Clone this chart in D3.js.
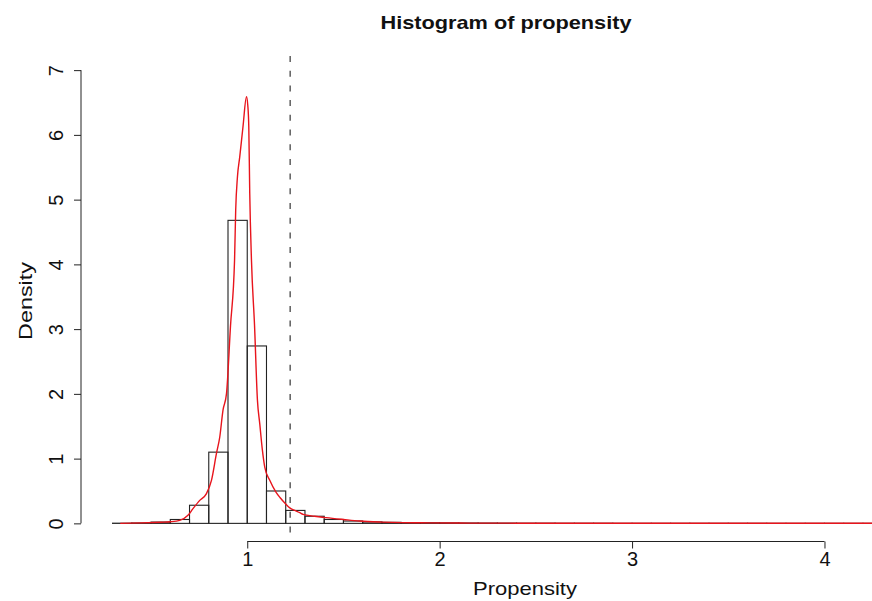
<!DOCTYPE html>
<html>
<head>
<meta charset="utf-8">
<script src="https://cdn.jsdelivr.net/npm/d3@7"></script>
<style>
  html, body { margin: 0; padding: 0; background: #fff; }
  svg { display: block; }
  text { font-family: "Liberation Sans", Arial, Helvetica, sans-serif; fill: #111; }
</style>
</head>
<body>
<script>
// ---- data ----
const title = "Histogram of propensity";
const xLabel = "Propensity";
const yLabel = "Density";
const binStart = 0.3;
const binWidth = 0.1;
const binDensity = [
  0.003, 0.006, 0.02, 0.06, 0.28, 1.10, 4.68, 2.74, 0.50, 0.20,
  0.11, 0.06, 0.036, 0.022, 0.016, 0.012, 0.01, 0.008, 0.006, 0.005,
  0.004, 0.003, 0.003, 0.002, 0.002, 0.002, 0.001, 0.001, 0.001, 0.001,
  0.001, 0.001, 0.001, 0.001, 0.0005, 0.0005, 0.0005, 0.0005, 0.0005, 0.0005, 0.0005
];
const densX = [0.34, 0.45, 0.55, 0.60, 0.649, 0.692, 0.718, 0.753, 0.788, 0.814, 0.840, 0.857, 0.874, 0.892, 0.913, 0.934, 0.940, 0.949, 0.961, 0.978, 0.996,
  1.003, 1.008, 1.013, 1.022, 1.038, 1.053, 1.065, 1.078, 1.091, 1.117, 1.15, 1.17, 1.20, 1.221, 1.247, 1.273, 1.29, 1.35, 1.41, 1.5, 1.584, 1.7, 1.757, 1.9, 2.1, 2.4, 2.8, 3.2, 3.6, 4.0, 4.4, 4.6];
const densY = [0.0, 0.008, 0.018, 0.025, 0.046, 0.124, 0.227, 0.355, 0.46, 0.665, 1.08, 1.33, 1.75, 2.0, 3.05, 4.06, 4.84, 5.35, 5.66, 6.13, 6.59,
  6.45, 6.13, 5.1, 4.06, 3.05, 1.90, 1.54, 1.15, 0.87, 0.665, 0.48, 0.40, 0.30, 0.24, 0.20, 0.165, 0.14, 0.11, 0.088, 0.06, 0.036, 0.02, 0.015, 0.009, 0.005, 0.003, 0.002, 0.0015, 0.001, 0.001, 0.0008, 0.0005];
const cutoff = 1.223;
const xTicks = [1, 2, 3, 4];
const yTicks = [0, 1, 2, 3, 4, 5, 6, 7];

// ---- layout ----
const W = 872, H = 601;
const svg = d3.select("body").append("svg").attr("width", W).attr("height", H);

const x = d3.scaleLinear().domain([0.136, 4.564]).range([81, 933]);
const y = d3.scaleLinear().domain([-0.28, 7.28]).range([541.5, 52]);

svg.append("defs").append("clipPath").attr("id", "plotclip")
  .append("rect").attr("x", 81).attr("y", 52).attr("width", 852).attr("height", 489.5);

const plot = svg.append("g").attr("clip-path", "url(#plotclip)");

// histogram bars
const bins = binDensity.map((d, i) => ({ x0: binStart + i * binWidth, x1: binStart + (i + 1) * binWidth, d }));
plot.selectAll("rect.bar").data(bins).enter().append("rect")
  .attr("class", "bar")
  .attr("x", b => x(b.x0))
  .attr("width", b => x(b.x1) - x(b.x0))
  .attr("y", b => y(b.d))
  .attr("height", b => y(0) - y(b.d))
  .attr("fill", "none")
  .attr("stroke", "#222")
  .attr("stroke-width", 1.1);

// density curve
const pts = densX.map((v, i) => [v, densY[i]]);
plot.append("path")
  .datum(pts)
  .attr("d", d3.line().x(p => x(p[0])).y(p => y(p[1])).curve(d3.curveMonotoneX))
  .attr("fill", "none")
  .attr("stroke", "#e8141c")
  .attr("stroke-width", 1.4);

// cutoff dashed line
plot.append("line")
  .attr("x1", x(cutoff)).attr("x2", x(cutoff))
  .attr("y1", 56).attr("y2", 541.5)
  .attr("stroke", "#444")
  .attr("stroke-width", 1.3)
  .attr("stroke-dasharray", "6,8.7");

const tickFont = "20px";

// x axis
const xAxisG = svg.append("g").attr("transform", "translate(0,541.5)")
  .call(d3.axisBottom(x).tickValues(xTicks).tickSize(7).tickSizeOuter(0).tickFormat(d3.format("d")));
xAxisG.select(".domain").remove();
xAxisG.append("line").attr("x1", x(xTicks[0])).attr("x2", x(xTicks[xTicks.length - 1]))
  .attr("y1", 0).attr("y2", 0).attr("stroke", "#222");
xAxisG.selectAll(".tick line").attr("stroke", "#222");
xAxisG.selectAll(".tick text").attr("dy", null).attr("y", 24)
  .style("font-size", tickFont).style("font-family", "Liberation Sans, Arial, sans-serif").attr("fill", "#111");

// y axis
const yAxisG = svg.append("g").attr("transform", "translate(81,0)")
  .call(d3.axisLeft(y).tickValues(yTicks).tickSize(7).tickSizeOuter(0).tickFormat(d3.format("d")));
yAxisG.select(".domain").remove();
yAxisG.append("line").attr("x1", 0).attr("x2", 0)
  .attr("y1", y(yTicks[0])).attr("y2", y(yTicks[yTicks.length - 1])).attr("stroke", "#222");
yAxisG.selectAll(".tick line").attr("stroke", "#222");
yAxisG.selectAll(".tick text")
  .attr("x", null).attr("dy", null).attr("y", null)
  .attr("text-anchor", "middle")
  .attr("transform", "translate(-18,0) rotate(-90)")
  .style("font-size", tickFont).style("font-family", "Liberation Sans, Arial, sans-serif").attr("fill", "#111");

// labels
svg.append("text").attr("x", 506).attr("y", 29).attr("text-anchor", "middle")
  .attr("textLength", 251).attr("lengthAdjust", "spacingAndGlyphs")
  .style("font-size", "19px").style("font-weight", "bold").text(title);
svg.append("text").attr("x", 525).attr("y", 595).attr("text-anchor", "middle")
  .attr("textLength", 104).attr("lengthAdjust", "spacingAndGlyphs")
  .style("font-size", "19px").text(xLabel);
svg.append("text").attr("transform", "translate(32,301) rotate(-90)").attr("text-anchor", "middle")
  .attr("textLength", 78).attr("lengthAdjust", "spacingAndGlyphs")
  .style("font-size", "19px").text(yLabel);
</script>
</body>
</html>
